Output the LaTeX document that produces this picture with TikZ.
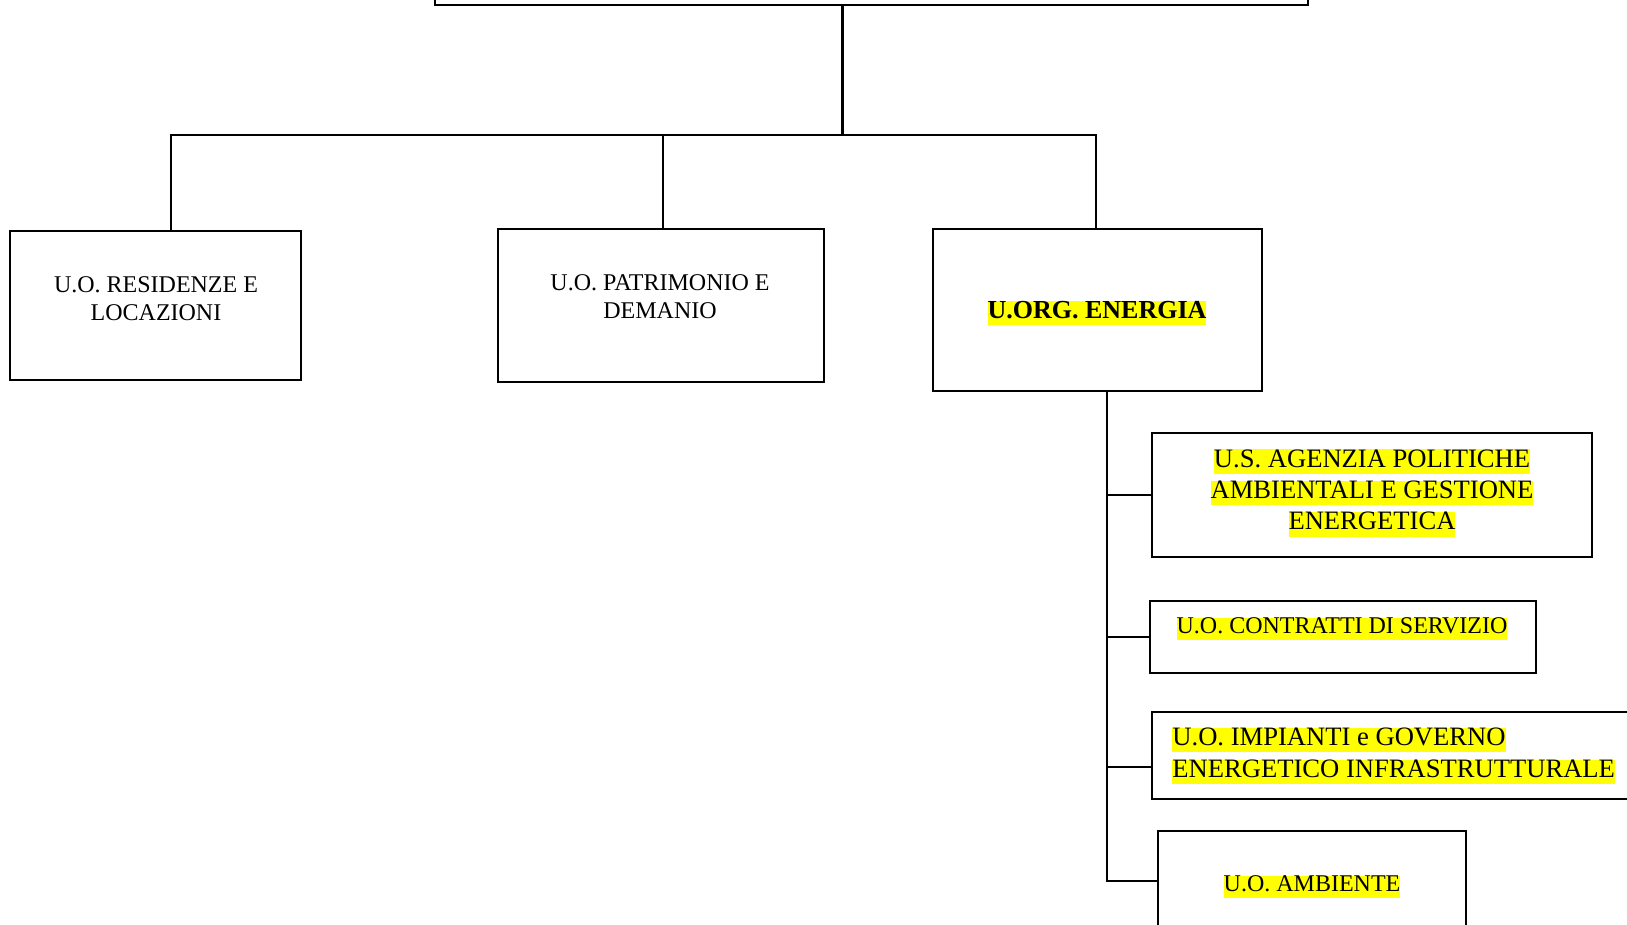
\documentclass[tikz,border=0pt]{standalone}
\usepackage{fontspec}
\setmainfont{Liberation Serif}
\usepackage{tikz}
\definecolor{hlyellow}{RGB}{255,255,0}
\newcommand{\hlt}[1]{{\setlength{\fboxsep}{0pt}\colorbox{hlyellow}{\rule[-0.27em]{0pt}{0.87em}#1}}}
\tikzstyle{unit}=[rectangle,draw=black!100,line width=1.1pt,inner sep=0pt]
\tikzstyle{unitname}=[align=center,inner sep=0pt,font=\fontsize{12}{14}\selectfont]
\tikzstyle{link}=[draw=black!100,line width=1.1pt]

\begin{document}
\begin{tikzpicture}[x=0.5pt,y=-0.5pt]
                    \useasboundingbox (0,0) rectangle (1627,925);
                    \clip (0,0) rectangle (1627,925);

                    \node (top) at (871.5,-27.5) [unit,minimum width=436.5pt,minimum height=32.5pt] {};
                    \node (res) at (155.5,305.5) [unit,minimum width=145.5pt,minimum height=74.5pt] {};
                    \node (pat) at (661,305.5) [unit,minimum width=163pt,minimum height=76.5pt] {};
                    \node (en) at (1097.5,310) [unit,minimum width=164.5pt,minimum height=81pt] {};
                    \node (agz) at (1372,495) [unit,minimum width=220pt,minimum height=62pt] {};
                    \node (contr) at (1343,637) [unit,minimum width=193pt,minimum height=36pt] {};
                    \node (imp) at (1406,755.5) [unit,minimum width=254pt,minimum height=43.5pt] {};
                    \node (amb) at (1312,881) [unit,minimum width=154pt,minimum height=50pt] {};

                    \node (restxt) at (156,299) [unitname] {U.O. RESIDENZE E\\LOCAZIONI};
                    \node (pattxt) at (660,297) [unitname] {U.O. PATRIMONIO E\\DEMANIO};
                    \node (entxt) at (1097,313) [unitname,font=\bfseries\fontsize{13}{15}\selectfont] {\hlt{U.ORG. ENERGIA}};
                    \node (agztxt) at (1372,493) [unitname,font=\fontsize{13.3}{15.6}\selectfont] {\hlt{U.S. AGENZIA POLITICHE}\\\hlt{AMBIENTALI E GESTIONE}\\\hlt{ENERGETICA}};
                    \node (contrtxt) at (1342,629) [unitname] {\hlt{U.O. CONTRATTI DI SERVIZIO}};
                    \node (imptxt) at (1172,756) [unitname,anchor=west,align=left,font=\fontsize{13.3}{16}\selectfont] {\hlt{U.O. IMPIANTI e GOVERNO}\\\hlt{ENERGETICO INFRASTRUTTURALE}};
                    \node (ambtxt) at (1312,887) [unitname] {\hlt{U.O. AMBIENTE}};

                    \coordinate (drop) at (842.5,135);
                    \coordinate (busl) at (171,135);
                    \coordinate (busm) at (663,135);
                    \coordinate (busr) at (1096,135);
                    \coordinate (trunk) at (1107,881);
                    \coordinate (impjoin) at (1107,767);

                    \draw [link] (top.south -| drop) -- (drop);
                    \draw [link] (res.north -| busl) -- (busl) -- (busr) -- (en.north -| busr);
                    \draw [link] (busm) -- (pat.north -| busm);
                    \draw [link] (en.south -| trunk) |- (amb.west);
                    \draw [link] (trunk |- agz.west) -- (agz.west);
                    \draw [link] (trunk |- contr.west) -- (contr.west);
                    \draw [link] (impjoin) -- (imp.west |- impjoin);
                \end{tikzpicture}
\end{document}
